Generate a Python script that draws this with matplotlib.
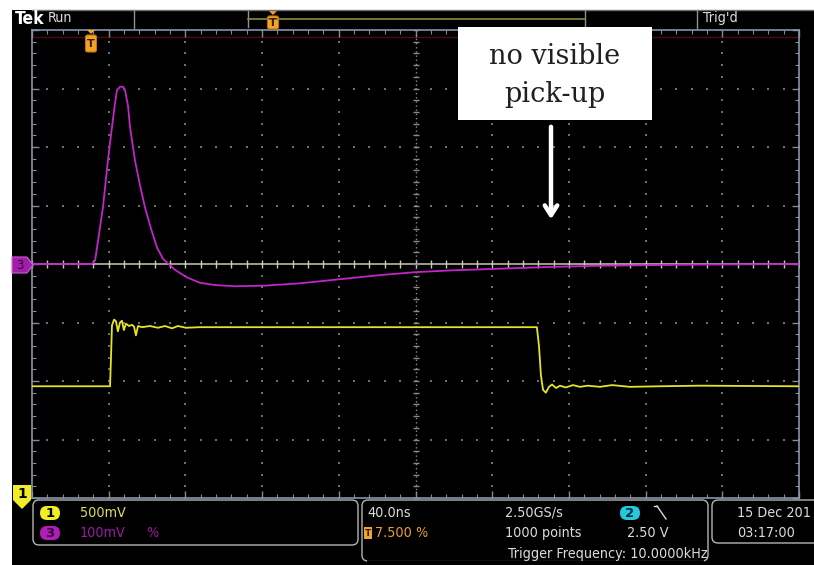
import matplotlib
matplotlib.use("Agg")
import matplotlib.pyplot as plt
from matplotlib.patches import Rectangle, FancyBboxPatch, Polygon
import numpy as np

# ---------------- data ----------------
# horizontal: 40 ns/div, 10 divisions, trigger at 7.5 %
time_per_div_ns = 40.0
n_hdiv = 10
n_vdiv = 8

# channel 3 (magenta), vertical position in divisions (100 mV/div)
ch3_t_ns = [0.0, 31.3, 32.9, 34.9, 37.0, 39.6, 41.7, 43.3, 44.3, 45.9, 47.5, 48.5,
            50.1, 51.1, 53.7, 56.3, 58.9, 62.1, 65.2, 68.3, 70.9, 74.6, 80.8, 87.6,
            95.4, 105.9, 121.5, 139.8, 160.6, 181.5, 199.7, 218.0, 244.1, 270.1,
            296.2, 348.3, 399.5]
ch3_div = [0.0, 0.0, 0.06, 0.5, 0.97, 1.77, 2.34, 2.75, 2.97, 3.03, 3.03, 2.97,
           2.7, 2.34, 1.77, 1.35, 0.97, 0.6, 0.28, 0.09, 0.01, -0.1, -0.23, -0.32,
           -0.36, -0.38, -0.37, -0.33, -0.26, -0.19, -0.14, -0.11, -0.08, -0.05,
           -0.03, -0.01, 0.0]

# channel 1 (yellow), vertical position in divisions (500 mV/div)
ch1_t_ns = [0.0, 40.7, 41.2, 41.7, 42.8, 43.8, 44.8, 45.9, 46.9, 47.9, 49.0, 50.6,
            52.2, 53.2, 54.2, 55.3, 57.4, 61.5, 65.7, 69.4, 73.0, 76.1, 80.3, 87.6,
            139.8, 191.9, 263.3, 264.4, 265.4, 266.5, 268.0, 269.6, 271.2, 273.3,
            275.3, 278.4, 282.1, 285.7, 289.9, 296.2, 302.5, 311.8, 327.5, 348.3, 399.5]
ch1_div = [-2.09, -2.09, -1.6, -1.05, -0.95, -0.98, -1.15, -1.0, -0.97, -1.13, -1.02, -1.06,
           -1.04, -1.07, -1.22, -1.06, -1.08, -1.06, -1.09, -1.06, -1.1, -1.06, -1.09, -1.08,
           -1.08, -1.08, -1.08, -1.4, -1.9, -2.15, -2.2, -2.1, -2.06, -2.12,
           -2.08, -2.11, -2.07, -2.1, -2.08, -2.1, -2.07, -2.1, -2.09, -2.08, -2.09]

trigger_pct = 7.5
annotation_lines = ["no visible", "pick-up"]

W, H = 814, 565
fig = plt.figure(figsize=(W / 100, H / 100), dpi=100)
fig.patch.set_facecolor("white")

# background (screen)
ax_bg = fig.add_axes([0, 0, 1, 1], zorder=0)
ax_bg.set_xlim(0, W); ax_bg.set_ylim(H, 0); ax_bg.axis("off")
ax_bg.add_patch(Rectangle((12, 10), W - 12, H - 10, facecolor="black", edgecolor="none"))

# graticule axes
gl, gr, gt, gb = 32, 799, 30, 498
ax = fig.add_axes([gl / W, 1 - gb / H, (gr - gl) / W, (gb - gt) / H], zorder=1)
ax.set_facecolor("none")
tmax = time_per_div_ns * n_hdiv
ax.set_xlim(0, tmax)
ax.set_ylim(-n_vdiv / 2, n_vdiv / 2)
for s in ax.spines.values():
    s.set_color("#8796aa"); s.set_linewidth(1.2)
ax.set_xticks(np.arange(0, tmax + 1, time_per_div_ns))
ax.set_yticks(np.arange(-4, 5, 1))
ax.set_xticks(np.arange(0, tmax + 1, time_per_div_ns / 5), minor=True)
ax.set_yticks(np.arange(-4, 4.01, 0.2), minor=True)
ax.tick_params(which="both", direction="in", top=True, right=True, labelbottom=False,
               labelleft=False, color="#8a8a8a")
ax.tick_params(which="major", length=5, width=1)
ax.tick_params(which="minor", length=3, width=0.8)

# grid dots
mx = np.arange(0, tmax + 0.1, time_per_div_ns / 5)
my = np.arange(-4, 4.01, 0.2)
for yv in range(-3, 4):
    if yv == 0:
        continue
    ax.plot(mx, np.full_like(mx, yv), ls="none", marker="s", ms=1.5, color="#6e6e6e", mew=0)
for k in range(1, n_hdiv):
    xv = k * time_per_div_ns
    if k == 5:
        continue
    ax.plot(np.full_like(my, xv), my, ls="none", marker="s", ms=1.5, color="#6e6e6e", mew=0)
# centre cross with minor ticks
ax.axhline(0, color="#c8c8b4", lw=1.1, zorder=2)
ax.plot(mx, np.zeros_like(mx), ls="none", marker="|", ms=6, color="#c8c8b4", mew=1, zorder=2)
ax.plot(np.full_like(my, tmax / 2), my, ls="none", marker="_", ms=5, color="#8a8a8a", mew=1, zorder=2)
ax.axvline(tmax / 2, color="#8a8a8a", lw=1, ls=(0, (1, 2)), zorder=2)
# faint trigger-level line near top
ax.axhline(3.88, color="#4a0d10", lw=1, zorder=1)

# traces
ax.plot(ch3_t_ns, ch3_div, color="#c026c8", lw=1.3, zorder=3)
ax.plot(ch1_t_ns, ch1_div, color="#e4e428", lw=1.3, zorder=4)

# overlay (pixel coordinates)
ao = fig.add_axes([0, 0, 1, 1], zorder=3)
ao.set_xlim(0, W); ao.set_ylim(H, 0); ao.axis("off"); ao.set_facecolor("none")

txt = "#dcdcdc"
NF = dict(family=["DejaVu Sans"], fontstretch="condensed", fontsize=10.3)

# top bar
ao.text(15, 19, "Tek", color="white", fontsize=12.5, fontweight="bold", va="center", ha="left",
        family=["DejaVu Sans"], fontstretch="condensed")
ao.text(48, 18, "Run", color=txt, va="center", ha="left", **NF)
ao.plot([32, 814], [10, 10], color="#707070", lw=1)
ao.plot([134, 134], [10, 28], color="#909090", lw=1)
ao.plot([248, 248], [11, 27], color="#909090", lw=1)
ao.plot([585, 585], [10, 28], color="#909090", lw=1)
ao.plot([248, 585], [19, 19], color="#8c8c3c", lw=1.2)
ao.plot([697, 697], [10, 28], color="#909090", lw=1)
ao.text(703, 18, "Trig'd", color=txt, va="center", ha="left", **NF)

def tmarker(cx, top, h):
    ao.add_patch(Polygon([[cx - 4, top], [cx + 4, top], [cx, top + 4]], closed=True,
                         facecolor="#f0a428", edgecolor="none"))
    ao.add_patch(FancyBboxPatch((cx - 5.5, top + 5), 11, h, boxstyle="round,pad=0,rounding_size=2",
                                facecolor="#f0a428", edgecolor="#c07010", lw=0.8))
    ao.text(cx, top + 5 + h / 2 + 0.5, "T", color="#3a1a00", fontsize=8, fontweight="bold",
            ha="center", va="center")

tmarker(273, 11, 13)
tmarker(91, 30, 17)

# channel 3 marker
ao.add_patch(Polygon([[12, 257], [27, 257], [33, 265], [27, 273], [12, 273]], closed=True,
                     facecolor="#a01ea8", edgecolor="#d060d8", lw=0.8))
ao.text(20, 265.5, "3", color="#3a003a", fontsize=8.5, ha="center", va="center")
# channel 1 marker
ao.add_patch(Polygon([[13, 485], [31, 485], [31, 500], [22, 509], [13, 500]], closed=True,
                     facecolor="#f0ec28", edgecolor="none"))
ao.text(22, 494, "1", color="black", fontsize=10, fontweight="bold", ha="center", va="center")

# status boxes
box_col = "#b4b4b4"
ao.add_patch(FancyBboxPatch((33, 500), 325, 45, boxstyle="round,pad=0,rounding_size=6",
                            facecolor="none", edgecolor=box_col, lw=1))
ao.add_patch(FancyBboxPatch((362, 500), 346, 61, boxstyle="round,pad=0,rounding_size=6",
                            facecolor="none", edgecolor=box_col, lw=1))
ao.add_patch(FancyBboxPatch((712, 500), 130, 43, boxstyle="round,pad=0,rounding_size=6",
                            facecolor="none", edgecolor=box_col, lw=1))
ao.plot([368, 702], [561, 561], color="black", lw=2)  # open bottom of middle box

def badge(cx, cy, label, fc, tc):
    ao.add_patch(FancyBboxPatch((cx - 10, cy - 7), 20, 14, boxstyle="round,pad=0,rounding_size=7",
                                facecolor=fc, edgecolor="none"))
    ao.text(cx, cy + 0.5, label, color=tc, fontsize=9.5, ha="center", va="center",
            family=["DejaVu Sans"], fontweight="bold")

badge(50, 513, "1", "#f2f020", "black")
badge(50, 533, "3", "#b01eb8", "#3a003a")
ao.text(80, 513, "500mV", color="#e0e060", va="center", **NF)
ao.text(80, 533, "100mV", color="#9a1aa4", va="center", **NF)
ao.text(146, 533, "%", color="#9a1aa4", va="center", **NF)

ao.text(367, 513, "40.0ns", color=txt, va="center", **NF)
ao.add_patch(Rectangle((364, 527), 8, 12, facecolor="#f0a428", edgecolor="none"))
ao.text(368, 533.5, "T", color="#3a1a00", fontsize=6.5, ha="center", va="center", fontweight="bold")
ao.text(375, 533, f"{trigger_pct:.3f} %", color="#e8a030", va="center", **NF)
ao.text(505, 513, "2.50GS/s", color=txt, va="center", **NF)
ao.text(505, 533, "1000 points", color=txt, va="center", **NF)
ao.text(508, 554, "Trigger Frequency: 10.0000kHz", color=txt, va="center", **NF)
badge(630, 513, "2", "#28c8dc", "#003040")
ao.plot([657, 666], [506, 519], color=txt, lw=1)
ao.plot([654, 657], [506, 506], color=txt, lw=1)
ao.text(627, 533, "2.50 V", color=txt, va="center", **NF)
ao.text(737, 513, "15 Dec 201", color=txt, va="center", **NF)
ao.text(737, 533, "03:17:00", color=txt, va="center", **NF)

# annotation box + arrow
ao.add_patch(Rectangle((458, 27), 194, 93, facecolor="white", edgecolor="none", zorder=5))
ao.text(555, 56, annotation_lines[0], color="#202020", fontsize=19.5, ha="center", va="center",
        family=["DejaVu Serif"], zorder=6)
ao.text(555, 94, annotation_lines[1], color="#202020", fontsize=19.5, ha="center", va="center",
        family=["DejaVu Serif"], zorder=6)
ao.annotate("", xy=(551, 222), xytext=(551, 124),
            arrowprops=dict(arrowstyle="->,head_length=0.7,head_width=0.45", color="white", lw=3.2),
            zorder=6)

fig.savefig("out.png", dpi=100, facecolor="white")
